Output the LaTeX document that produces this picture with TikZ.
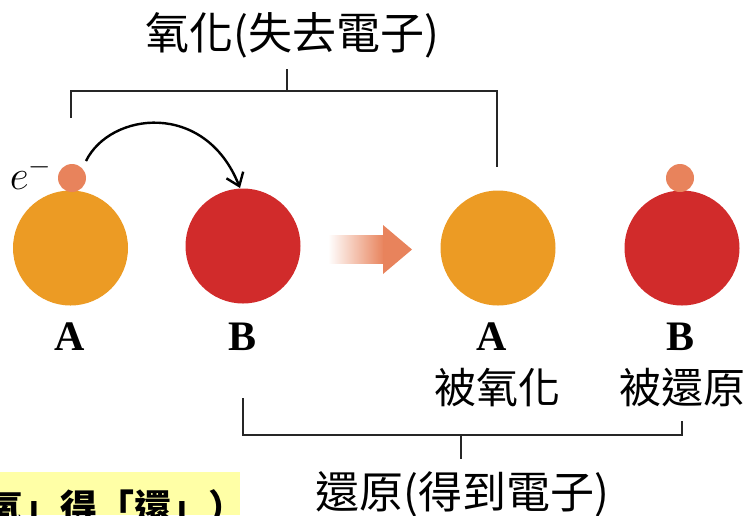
\documentclass[tikz,border=0pt]{standalone}
\usepackage{fontspec}
\setmainfont{Liberation Serif}
\newfontfamily\cjk{Noto Sans CJK TC}
\usetikzlibrary{arrows.meta}
\definecolor{orangeA}{HTML}{EC9B24}
\definecolor{redB}{HTML}{D12B2B}
\definecolor{elec}{HTML}{E8835C}
\definecolor{arrowc}{HTML}{E8835C}
\definecolor{memo}{HTML}{FFFFA6}
\tikzset{
  atom/.style={circle, minimum size=57.5pt, inner sep=0pt},
  electron/.style={circle, fill=elec, minimum size=14pt, inner sep=0pt},
  letter/.style={font=\fontsize{21}{21}\selectfont\bfseries, inner sep=0pt},
  cjktext/.style={font=\cjk\fontsize{21}{21}\selectfont, inner sep=0pt},
  headtext/.style={font=\cjk\fontsize{22}{22}\selectfont, inner sep=0pt},
  bracket/.style={line width=1pt, black!85},
}
\begin{document}
\begin{tikzpicture}[x=0.5pt, y=-0.5pt]
\clip (0,0) rectangle (745,515);
\useasboundingbox (0,0) rectangle (745,515);
% memo box
\fill[memo] (0,472) rectangle (240,515);
\node[font=\cjk\fontsize{18.5}{18.5}\selectfont\bfseries, anchor=base west, inner sep=0pt] (memo) at (-88,521) {失「氧」得「還」）};
% atoms
\node[atom, fill=orangeA] (A1) at (70.5,248) {};
\node[atom, fill=redB] (B1) at (243,246) {};
\node[atom, fill=orangeA] (A2) at (498,248) {};
\node[atom, fill=redB] (B2) at (682,248) {};
\node[electron] (e1) at (72,178) {};
\node[electron] (e2) at (680,178) {};
\node[font=\fontsize{22}{22}\selectfont, inner sep=0pt] (elab) at (31,174) {$e^{-}$};
% transfer arc
\coordinate (s) at (86,161);
\coordinate (t) at (240,188);
\draw[line width=1.2pt, -{Straight Barb[length=6pt, width=9pt]}] (s) .. controls (110,112) and (205,100) .. (t);
% big gradient arrow
\shade[left color=white, right color=arrowc] (328,235) rectangle (384,263);
\fill[arrowc] (383,225) -- (412,249.5) -- (383,274) -- cycle;
% labels
\node[letter] (lA1) at (70,337) {A};
\node[letter] (lB1) at (243,337) {B};
\node[letter] (lA2) at (492,337) {A};
\node[letter] (lB2) at (681,337) {B};
\node[cjktext] (ox) at (497,388) {被氧化};
\node[cjktext] (re) at (682,388) {被還原};
% top bracket
\node[headtext] (top) at (292,35) {氧化(失去電子)};
\coordinate (t0) at (287,69);
\coordinate (t1) at (287,91);
\coordinate (tl) at (71,91);
\coordinate (tr) at (497,91);
\draw[bracket] (t0) -- (t1);
\draw[bracket] (71,118) -- (tl) -- (tr) -- (497,167);
% bottom bracket
\node[headtext] (bot) at (462,494) {還原(得到電子)};
\coordinate (b0) at (461,435);
\coordinate (b1) at (461,459);
\draw[bracket] (b0) -- (b1);
\draw[bracket] (243,398) -- (243,435) -- (682,435) -- (682,421);
\end{tikzpicture}
\end{document}
